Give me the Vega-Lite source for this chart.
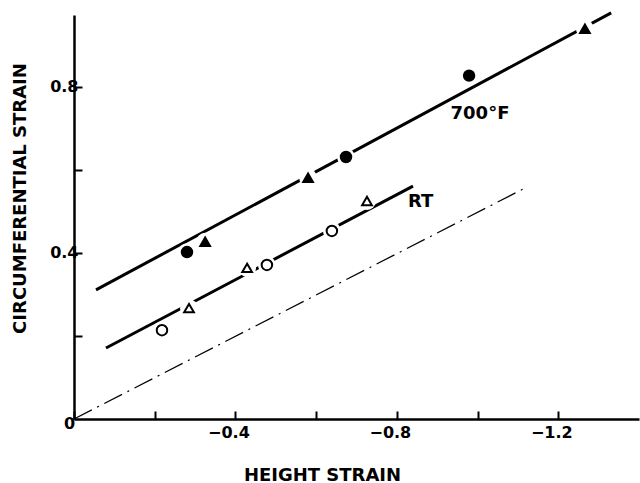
{
  "$schema": "https://vega.github.io/schema/vega-lite/v6.json",
  "width": 565,
  "height": 404,
  "autosize": "none",
  "padding": {"left": 74, "top": 15, "right": 1, "bottom": 64},
  "background": "white",
  "config": {"view": {"stroke": null}, "font": "DejaVu Sans"},
  "datasets": {
    "ideal": [
      {"h": 0, "c": 0},
      {"h": -1.123, "c": 0.559}
    ],
    "fits": [
      {"test": "700°F", "h": -0.0545, "c": 0.311},
      {"test": "700°F", "h": -1.331, "c": 0.978},
      {"test": "RT", "h": -0.0793, "c": 0.171},
      {"test": "RT", "h": -0.840, "c": 0.561}
    ],
    "points": [
      {"test": "700°F", "specimen": "1", "h": -0.280, "c": 0.402},
      {"test": "700°F", "specimen": "2", "h": -0.325, "c": 0.427},
      {"test": "700°F", "specimen": "2", "h": -0.580, "c": 0.581},
      {"test": "700°F", "specimen": "1", "h": -0.674, "c": 0.631},
      {"test": "700°F", "specimen": "1", "h": -0.979, "c": 0.827},
      {"test": "700°F", "specimen": "2", "h": -1.266, "c": 0.940},
      {"test": "RT", "specimen": "1", "h": -0.218, "c": 0.214},
      {"test": "RT", "specimen": "2", "h": -0.285, "c": 0.267},
      {"test": "RT", "specimen": "2", "h": -0.429, "c": 0.364},
      {"test": "RT", "specimen": "1", "h": -0.478, "c": 0.371},
      {"test": "RT", "specimen": "1", "h": -0.639, "c": 0.453},
      {"test": "RT", "specimen": "2", "h": -0.726, "c": 0.525}
    ],
    "labels": [
      {"text": "700°F", "h": -1.006, "c": 0.734},
      {"text": "RT", "h": -0.859, "c": 0.522}
    ]
  },
  "encoding": {
    "x": {
      "field": "h",
      "type": "quantitative",
      "scale": {"domain": [0, -1.4], "nice": false, "zero": false},
      "axis": {
        "title": "HEIGHT STRAIN",
        "values": [0, -0.2, -0.4, -0.6, -0.8, -1, -1.2],
        "format": ".1f",
        "labelExpr": "datum.value == 0 ? '0' : (datum.value == -0.4 || datum.value == -0.8 || datum.value == -1.2) ? datum.label : ''",
        "grid": false,
        "domainColor": "black",
        "domainWidth": 2.5,
        "tickColor": "black",
        "tickWidth": 2,
        "tickSize": -8,
        "labelFont": "DejaVu Sans",
        "labelFontWeight": "bold",
        "labelFontSize": 16,
        "labelColor": "black",
        "labelOffset": {"condition": {"test": "datum.value == 0", "value": -5}, "value": -7},
        "labelPadding": {"condition": {"test": "datum.value == 0", "value": 4}, "value": 13},
        "labelFlush": false,
        "labelOverlap": false,
        "labelBound": false,
        "titleFont": "DejaVu Sans",
        "titleFontSize": 18,
        "titleFontWeight": "bold",
        "titleColor": "black",
        "titleX": 248,
        "titleY": 61,
        "titleBaseline": "alphabetic",
        "titleAlign": "center"
      }
    },
    "y": {
      "field": "c",
      "type": "quantitative",
      "scale": {"domain": [0, 0.973], "nice": false, "zero": false},
      "axis": {
        "title": "CIRCUMFERENTIAL STRAIN",
        "values": [0.2, 0.4, 0.6, 0.8],
        "format": ".1f",
        "labelExpr": "(datum.value == 0.4 || datum.value == 0.8) ? datum.label : ''",
        "grid": false,
        "domainColor": "black",
        "domainWidth": 2.5,
        "tickColor": "black",
        "tickWidth": 2,
        "tickSize": -8,
        "labelFont": "DejaVu Sans",
        "labelFontWeight": "bold",
        "labelFontSize": 16,
        "labelColor": "black",
        "labelPadding": 4,
        "labelOverlap": false,
        "labelBound": false,
        "labelFlush": false,
        "titleFont": "DejaVu Sans",
        "titleFontSize": 18,
        "titleFontWeight": "bold",
        "titleColor": "black",
        "titleX": -54,
        "titleY": 183,
        "titleAngle": -90,
        "titleBaseline": "middle",
        "titleAlign": "center"
      }
    }
  },
  "layer": [
    {
      "data": {"name": "ideal"},
      "mark": {"type": "line", "color": "black", "strokeWidth": 1.2, "strokeDash": [20, 6, 2, 6]},
      "encoding": {}
    },
    {
      "data": {"name": "fits"},
      "mark": {"type": "line", "color": "black", "strokeWidth": 3, "clip": false},
      "encoding": {"detail": {"field": "test"}}
    },
    {
      "data": {"name": "points"},
      "mark": {"type": "point", "shape": "circle", "filled": true, "color": "white", "opacity": 1, "size": 320},
      "encoding": {}
    },
    {
      "data": {"name": "points"},
      "mark": {"type": "point", "filled": true, "stroke": "black", "strokeWidth": 2, "opacity": 1},
      "encoding": {
        "shape": {"field": "specimen", "type": "nominal", "scale": {"domain": ["1", "2"], "range": ["circle", "triangle-up"]}, "legend": null},
        "size": {"field": "specimen", "type": "nominal", "scale": {"domain": ["1", "2"], "range": [110, 95]}, "legend": null},
        "fill": {"field": "test", "type": "nominal", "scale": {"domain": ["700°F", "RT"], "range": ["black", "white"]}, "legend": null}
      }
    },
    {
      "data": {"name": "labels"},
      "mark": {"type": "text", "font": "DejaVu Sans", "fontWeight": "bold", "fontSize": 18, "color": "black", "align": "center", "baseline": "middle"},
      "encoding": {"text": {"field": "text"}}
    }
  ]
}
